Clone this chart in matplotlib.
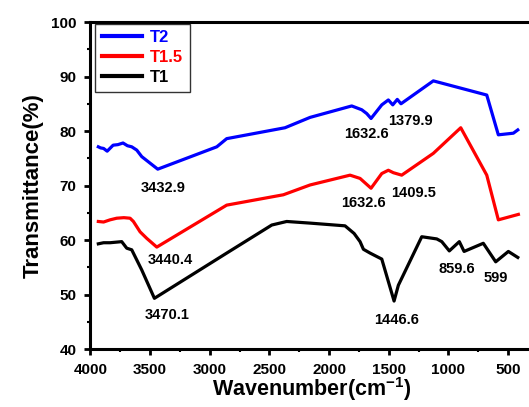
import matplotlib
matplotlib.use('Agg')
import matplotlib.pyplot as plt

plt.rcParams['font.family'] = ['Liberation Sans', 'DejaVu Sans']
plt.rcParams['font.weight'] = 'bold'
plt.rcParams['mathtext.fontset'] = 'custom'
plt.rcParams['mathtext.rm'] = 'Liberation Sans:bold'
plt.rcParams['mathtext.bf'] = 'Liberation Sans:bold'

# T2 (blue)
t2_x = [3934, 3915, 3890, 3860, 3810, 3770, 3727, 3690, 3654, 3612, 3570, 3436,
        2941, 2858, 2369, 2159, 1810, 1726, 1684, 1648, 1558, 1503, 1466, 1428,
        1397, 1126, 678, 581, 455, 418]
t2_y = [77.1, 76.9, 76.8, 76.3, 77.4, 77.5, 77.8, 77.3, 77.1, 76.5, 75.3, 73.0,
        77.1, 78.6, 80.6, 82.5, 84.6, 83.9, 83.2, 82.3, 84.8, 85.7, 84.8, 85.8,
        85.0, 89.2, 86.6, 79.3, 79.6, 80.2]

# T1.5 (red)
t15_x = [3934, 3890, 3836, 3780, 3720, 3668, 3640, 3584, 3528, 3444, 2858, 2383,
         2159, 1824, 1740, 1648, 1558, 1503, 1461, 1391, 1126, 896, 678, 581, 413]
t15_y = [63.4, 63.3, 63.7, 64.0, 64.1, 64.0, 63.4, 61.5, 60.3, 58.7, 66.4, 68.3,
         70.1, 71.9, 71.3, 69.5, 72.2, 72.8, 72.35, 71.9, 75.9, 80.6, 71.9, 63.7, 64.7]

# T1 (black)
t1_x = [3934, 3890, 3836, 3738, 3696, 3654, 3570, 3464, 2858, 2480, 2355, 2159,
        1866, 1790, 1740, 1712, 1656, 1558, 1455, 1419, 1223, 1097, 1055, 992, 908,
        868, 707, 603, 497, 418]
t1_y = [59.3, 59.5, 59.5, 59.7, 58.5, 58.2, 54.5, 49.3, 57.6, 62.75, 63.4, 63.1,
        62.6, 61.2, 59.7, 58.3, 57.6, 56.5, 48.8, 51.7, 60.6, 60.2, 59.7, 58.0, 59.7,
        57.9, 59.4, 56.0, 57.9, 56.8]

peak_labels = ['3432.9', '1632.6', '1379.9', '3440.4', '1632.6', '1409.5',
               '3470.1', '1446.6', '859.6', '599']
peak_x = [3394, 1684, 1321, 3333, 1712, 1293, 3361, 1438, 930, 603]
peak_y = [69.5, 79.4, 81.9, 56.3, 66.7, 68.7, 46.2, 45.4, 54.6, 53.0]

fig = plt.figure(figsize=(5.29, 4.07), dpi=100)
ax = fig.add_axes([0.171, 0.1425, 0.8344, 0.8034])

ax.plot(t2_x, t2_y, color='#0000ff', lw=2.3, label='T2')
ax.plot(t15_x, t15_y, color='#ff0000', lw=2.3, label='T1.5')
ax.plot(t1_x, t1_y, color='black', lw=2.3, label='T1')

for txt, x, y in zip(peak_labels, peak_x, peak_y):
    ax.text(x, y, txt, ha='center', va='center', fontsize=10.5, fontweight='bold')

ax.set_xlim(4000, 300)
ax.set_ylim(40, 100)
ax.set_xticks([4000, 3500, 3000, 2500, 2000, 1500, 1000, 500])
ax.set_xticks(list(range(3750, 300, -500)), minor=True)
ax.set_yticks([40, 50, 60, 70, 80, 90, 100])
ax.set_yticks([45, 55, 65, 75, 85, 95], minor=True)

for s in ax.spines.values():
    s.set_linewidth(2.2)
ax.tick_params(which='major', direction='out', length=4, width=2, labelsize=11, pad=6)
ax.tick_params(which='minor', direction='out', length=2.5, width=1.5)
for lab in ax.get_xticklabels() + ax.get_yticklabels():
    lab.set_fontweight('bold')

ax.set_ylabel('Transmittance(%)', fontsize=16, fontweight='bold', labelpad=5)
ax.set_xlabel(r'Wavenumber(cm$^{\mathbf{-1}}$)', fontsize=15.5, fontweight='bold', labelpad=-1)

leg = ax.legend(loc='upper left', bbox_to_anchor=(0.01, 0.995),
                handlelength=2.4, handletextpad=0.5, labelspacing=0.3,
                borderaxespad=0, fancybox=False, labelcolor='linecolor',
                prop={'weight': 'bold', 'size': 12})
leg.get_frame().set_edgecolor('black')
leg.get_frame().set_linewidth(1.0)
for line in leg.get_lines():
    line.set_linewidth(3)

fig.savefig('out.png', dpi=100)
